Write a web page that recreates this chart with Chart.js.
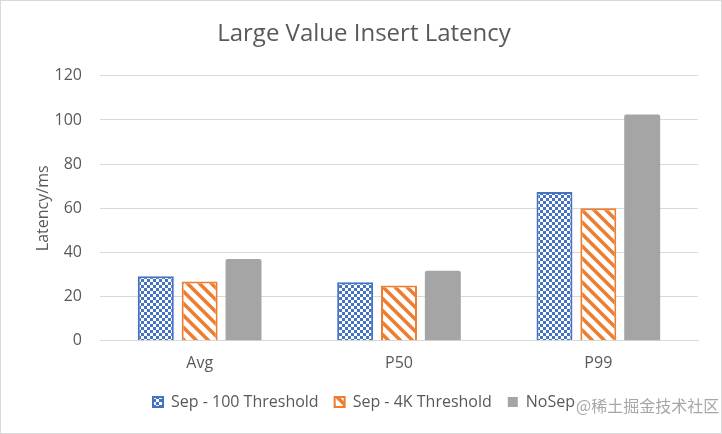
<!DOCTYPE html>
<html lang="en">
<head>
    <meta charset="UTF-8">
    <title>Large Value Insert Latency</title>
    <style>
        html, body { margin: 0; padding: 0; background: #fff; }
        #chart-container { width: 722px; height: 434px; position: relative; }
    </style>
</head>
<body>
    <div id="chart-container">
        <canvas id="myChart"></canvas>
    </div>

    <script src="https://cdn.jsdelivr.net/npm/chart.js@4.4.1/dist/chart.umd.min.js"></script>
    <script>
        const categories = ['Avg', 'P50', 'P99'];
        const sep100 = [29.2, 26.5, 67.4];
        const sep4k = [26.9, 25.0, 60.0];
        const noSep = [37.0, 31.7, 102.5];
        const yTicks = [0, 20, 40, 60, 80, 100, 120];

        const textColor = '#595959';
        const fontFamily = "'Open Sans', 'Noto Sans', sans-serif";

        // шахматка для первой серии
        function checkerPattern(color) {
            const c = document.createElement('canvas');
            c.width = 6; c.height = 6;
            const g = c.getContext('2d');
            g.fillStyle = '#fff';
            g.fillRect(0, 0, 6, 6);
            g.fillStyle = color;
            g.fillRect(0, 0, 3, 3);
            g.fillRect(3, 3, 3, 3);
            return g.createPattern(c, 'repeat');
        }

        // диагональная штриховка "\"
        function stripePattern(color) {
            const s = 12;
            const c = document.createElement('canvas');
            c.width = s; c.height = s;
            const g = c.getContext('2d');
            g.fillStyle = '#fff';
            g.fillRect(0, 0, s, s);
            g.strokeStyle = color;
            g.lineWidth = 3.5;
            g.beginPath();
            g.moveTo(-s, 0); g.lineTo(s * 2, s * 3);
            g.moveTo(-s, -s); g.lineTo(s * 2, s * 2);
            g.moveTo(0, -s); g.lineTo(s * 2, s);
            g.moveTo(-s * 2, -s); g.lineTo(s, s * 2);
            g.stroke();
            return g.createPattern(c, 'repeat');
        }

        const frame = {
            id: 'frame',
            beforeDraw(chart) {
                const { ctx, width, height } = chart;
                ctx.save();
                ctx.fillStyle = '#fff';
                ctx.fillRect(0, 0, width, height);
                ctx.strokeStyle = '#d9d9d9';
                ctx.lineWidth = 1;
                ctx.strokeRect(0.5, 0.5, width - 1, height - 1);
                ctx.restore();
            },
            afterDraw(chart) {
                const { ctx } = chart;
                ctx.save();
                ctx.font = "16px 'Noto Sans CJK SC', sans-serif";
                ctx.fillStyle = 'rgba(150,150,150,0.85)';
                ctx.textBaseline = 'middle';
                ctx.textAlign = 'left';
                ctx.fillText('@稀土掘金技术社区', 576, 406);
                ctx.restore();
            }
        };

        const ctx = document.getElementById('myChart').getContext('2d');
        const blue = '#4472c4', orange = '#ed7d31', gray = '#a5a5a5';

        const myChart = new Chart(ctx, {
            type: 'bar',
            data: {
                labels: categories,
                datasets: [
                    { label: 'Sep - 100 Threshold', data: sep100, backgroundColor: checkerPattern(blue), borderColor: blue, borderWidth: 2 },
                    { label: 'Sep - 4K Threshold', data: sep4k, backgroundColor: stripePattern(orange), borderColor: orange, borderWidth: 2 },
                    { label: 'NoSep', data: noSep, backgroundColor: gray, borderColor: gray, borderWidth: 0, borderRadius: 2 }
                ]
            },
            options: {
                responsive: true,
                maintainAspectRatio: false,
                animation: false,
                devicePixelRatio: 1,
                datasets: { bar: { barPercentage: 0.82, categoryPercentage: 0.66 } },
                layout: { padding: { left: 30, right: 24, top: 0, bottom: 14 } },
                plugins: {
                    title: {
                        display: true,
                        text: 'Large Value Insert Latency',
                        color: textColor,
                        font: { family: fontFamily, size: 24, weight: 'normal' },
                        padding: { top: 20, bottom: 27 }
                    },
                    legend: {
                        position: 'bottom',
                        labels: {
                            color: textColor,
                            font: { family: fontFamily, size: 16 },
                            boxWidth: 10,
                            boxHeight: 10,
                            padding: 16
                        }
                    },
                    tooltip: { enabled: false }
                },
                scales: {
                    x: {
                        grid: { display: false },
                        border: { display: true, color: '#d9d9d9' },
                        ticks: { color: textColor, font: { family: fontFamily, size: 16 }, padding: 5 }
                    },
                    y: {
                        min: 0, max: 120,
                        afterBuildTicks(scale) { scale.ticks = yTicks.map(v => ({ value: v })); },
                        afterFit(scale) { scale.width = 70; },
                        grid: { color: '#d9d9d9', drawTicks: false },
                        border: { display: false },
                        ticks: { color: textColor, font: { family: fontFamily, size: 16 }, padding: 18 },
                        title: {
                            display: true,
                            text: 'Latency/ms',
                            color: textColor,
                            font: { family: fontFamily, size: 16 },
                            padding: { bottom: 0 }
                        }
                    }
                }
            },
            plugins: [frame]
        });
    </script>
</body>
</html>
